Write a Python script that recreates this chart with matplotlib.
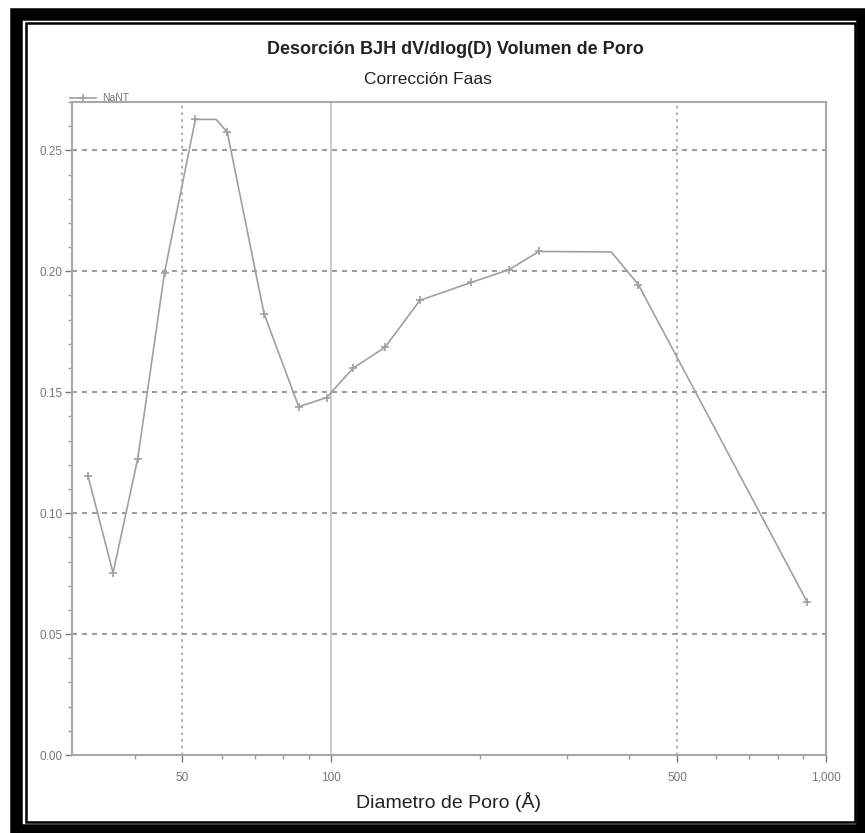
import matplotlib
matplotlib.use("Agg")
import matplotlib.pyplot as plt
from matplotlib.patches import Rectangle
from matplotlib.ticker import FixedLocator, FixedFormatter, MultipleLocator, NullFormatter

# Data
diameter = [32.2, 36.2, 40.6, 46.0, 53.1, 58.5, 61.6, 73.1, 85.9, 97.8, 110.7, 128.3,
            151.0, 191.8, 228.7, 262.8, 368.0, 417.5, 916.0]
volume = [0.1155, 0.0753, 0.1225, 0.1995, 0.2628, 0.2628, 0.2575, 0.1825, 0.1440, 0.1478,
          0.1600, 0.1685, 0.1880, 0.1954, 0.2007, 0.2082, 0.2080, 0.1945, 0.0633]
marker_idx = [0, 1, 2, 3, 4, 6, 7, 8, 9, 10, 11, 12, 13, 14, 15, 17, 18]
series_name = "NaNT"
x_ticks = [50, 100, 500, 1000]
x_ticklabels = ["50", "100", "500", "1,000"]
x_minor = [40, 60, 70, 80, 90, 200, 300, 400, 600, 700, 800, 900]
y_ticks = [0.00, 0.05, 0.10, 0.15, 0.20, 0.25]
y_ticklabels = ["0.00", "0.05", "0.10", "0.15", "0.20", "0.25"]

W, H = 865, 833
fig = plt.figure(figsize=(W / 100, H / 100), dpi=100)
plt.rcParams['font.family'] = ['Liberation Sans', 'DejaVu Sans']

ax = fig.add_axes([72 / W, 1 - 755 / H, (826 - 72) / W, (755 - 102) / H])
ax.set_xscale('log')
ax.set_xlim(29.9, 1000)
ax.set_ylim(0, 0.27)

line_col = '#a0a0a0'
ax.plot(diameter, volume, color=line_col, lw=1.2, marker='+', markersize=6,
        markeredgewidth=1.2, markevery=marker_idx, label=series_name, zorder=3)

ax.xaxis.set_major_locator(FixedLocator(x_ticks))
ax.xaxis.set_major_formatter(FixedFormatter(x_ticklabels))
ax.xaxis.set_minor_locator(FixedLocator(x_minor))
ax.xaxis.set_minor_formatter(NullFormatter())
ax.yaxis.set_major_locator(FixedLocator(y_ticks))
ax.yaxis.set_major_formatter(FixedFormatter(y_ticklabels))
ax.yaxis.set_minor_locator(MultipleLocator(0.01))

ax.tick_params(axis='both', which='major', labelsize=8.5, colors='#777777', length=5, width=1)
ax.tick_params(axis='both', which='minor', length=3, width=1, colors='#999999')
ax.tick_params(axis='x', pad=7)
ax.tick_params(axis='y', pad=2)

for yv in y_ticks[1:]:
    ax.axhline(yv, color='#8a8a8a', lw=1.2, ls=(0, (3, 3)), zorder=1)
for xv in [50, 500]:
    ax.axvline(xv, color='#a0a0a0', lw=1.2, ls=(0, (1.5, 2.5)), zorder=1)
ax.axvline(100, color='#c4c4c4', lw=1.2, ls='-', zorder=1)

for s in ax.spines.values():
    s.set_color('#a8a8a8')
    s.set_linewidth(1.5)

ax.set_xlabel("Diametro de Poro (Å)", fontsize=14, color='#222222', labelpad=6)

fig.text(455 / W, 1 - 50 / H, "Desorción BJH dV/dlog(D) Volumen de Poro", ha='center', va='center',
         fontsize=13, fontweight='bold', color='#222222')
fig.text(428 / W, 1 - 79 / H, "Corrección Faas", ha='center', va='center',
         fontsize=12.5, color='#222222')

leg = ax.legend(loc='lower left', bbox_to_anchor=(-0.005, 0.995), frameon=False,
                fontsize=7.5, handlelength=2.5, borderaxespad=0, borderpad=0.2,
                handletextpad=0.6)
for t in leg.get_texts():
    t.set_color('#777777')

# double black frame around the figure
fig.add_artist(Rectangle((16 / W, 1 - 829.5 / H), (861.5 - 16) / W, (829.5 - 14) / H,
                         transform=fig.transFigure, fill=False, ec='black', lw=9))
fig.add_artist(Rectangle((25.5 / W, 1 - 822 / H), (855 - 25.5) / W, (822 - 23) / H,
                         transform=fig.transFigure, fill=False, ec='black', lw=1.8))

fig.savefig("out.png", dpi=100)
